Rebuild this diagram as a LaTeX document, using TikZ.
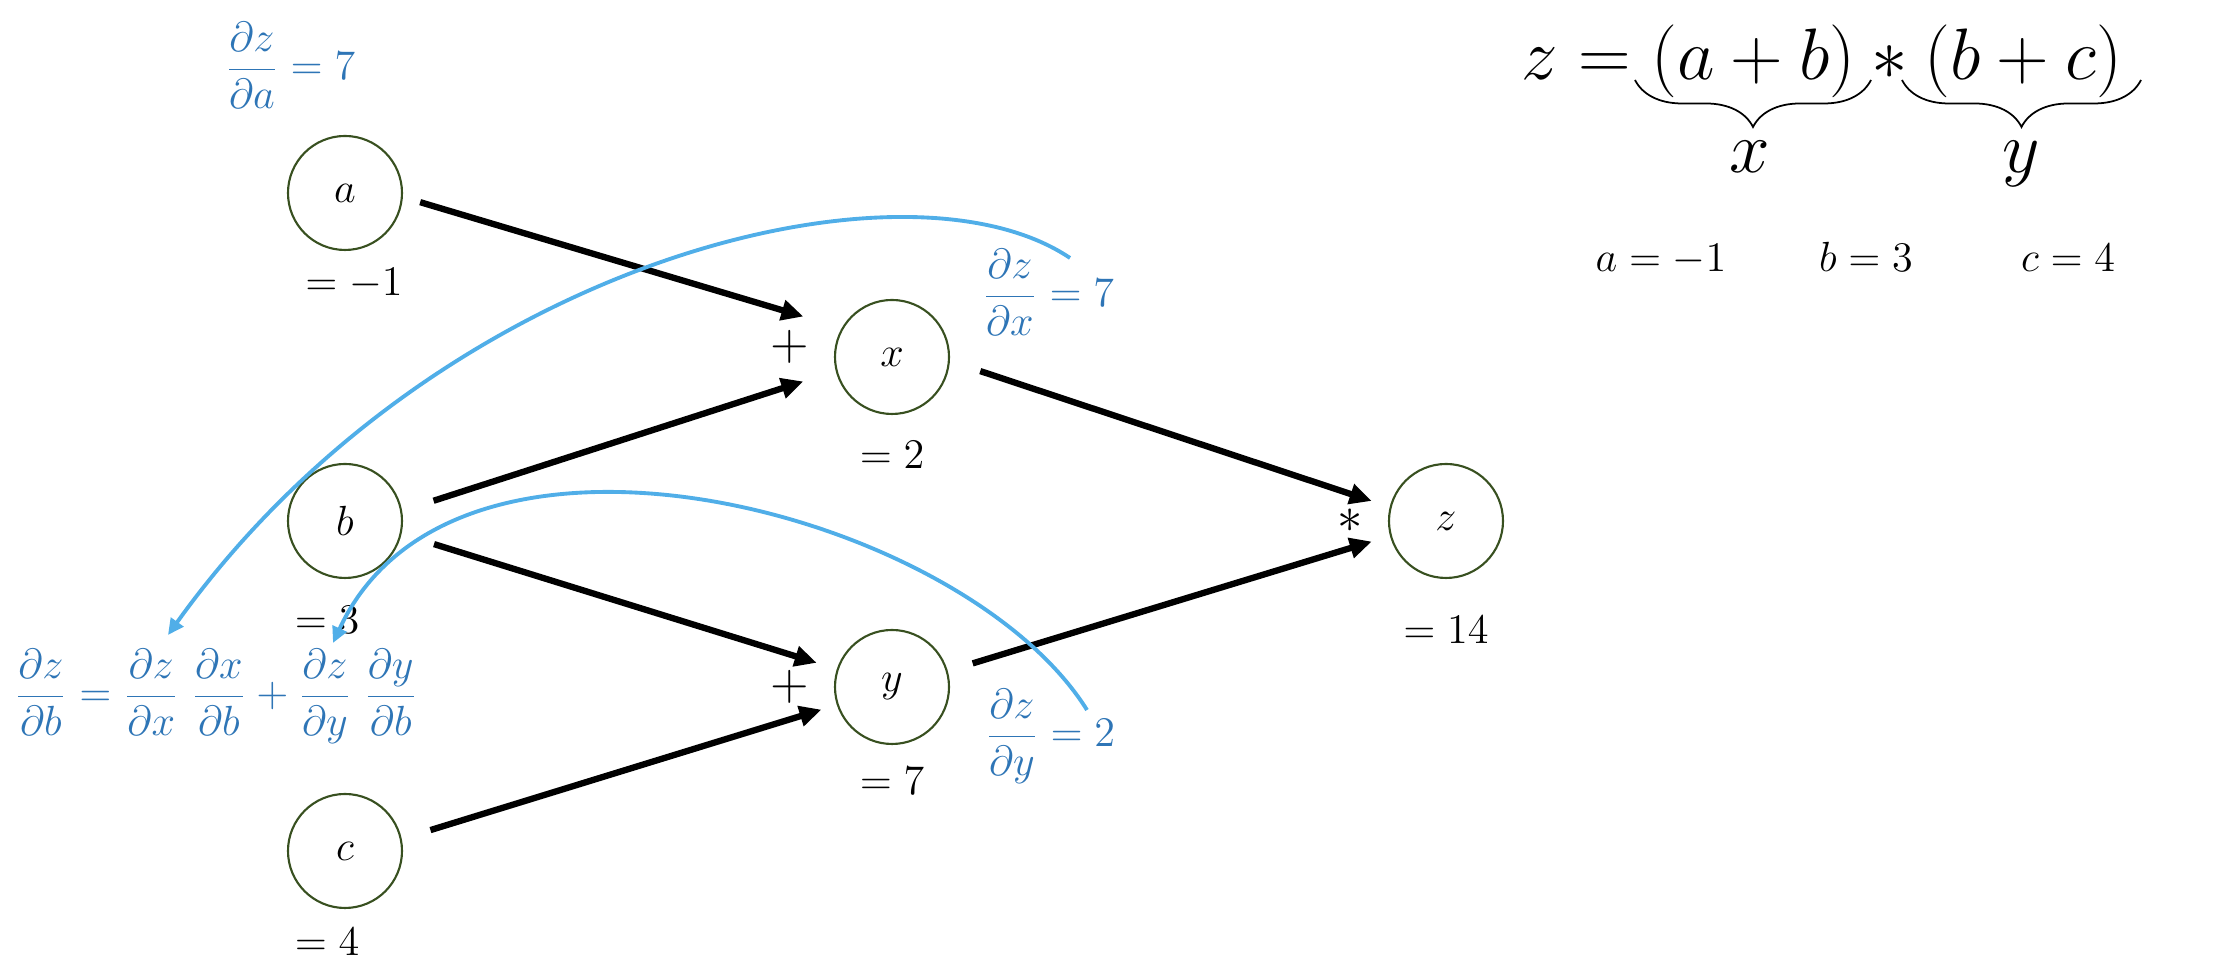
\documentclass[tikz,border=0pt]{standalone}
\usepackage{amsmath}
\usetikzlibrary{arrows.meta,positioning,decorations.pathreplacing}

\definecolor{rimgreen}{RGB}{56,80,32}
\definecolor{gradblue}{RGB}{46,117,182}
\definecolor{arcblue}{RGB}{80,174,232}

\begin{document}
\begin{tikzpicture}[
    var/.style={circle,draw=rimgreen,line width=0.6pt,minimum size=1.14cm,inner sep=0pt,font=\fontsize{13}{15}\selectfont},
    val/.style={inner sep=0pt,font=\fontsize{12}{14}\selectfont},
    op/.style={inner sep=0pt,font=\fontsize{15}{18}\selectfont},
    grad/.style={inner sep=0pt,text=gradblue,font=\fontsize{12.5}{15}\selectfont},
    fn/.style={inner sep=0pt,font=\fontsize{20}{24}\selectfont},
    brc/.style={decorate,decoration={brace,mirror,amplitude=0.47cm},line width=0.5pt},
    fwd/.style={-{Triangle[length=0.22cm,width=0.2cm]},line width=1.8pt},
    back/.style={-{Triangle[length=0.16cm,width=0.15cm]},arcblue,line width=1.1pt}]
  \useasboundingbox (0,0) rectangle (22.22,9.68);

  % computation graph
  \node[var] (a) at (3.45,7.75) {$a$};
  \node[var] (b) at (3.45,4.47) {$b$};
  \node[var] (c) at (3.45,1.17) {$c$};
  \node[var] (x) at (8.92,6.11) {$x$};
  \node[var] (y) at (8.92,2.81) {$y$};
  \node[var] (z) at (14.46,4.47) {$z$};

  \node[val] (va) [below=0.17cm of a, xshift=0.09cm]  {$=-1$};
  \node[val] (vb) [below=0.27cm of b, xshift=-0.18cm] {$=3$};
  \node[val] (vc) [below=0.19cm of c, xshift=-0.18cm] {$=4$};
  \node[val] (vx) [below=0.26cm of x] {$=2$};
  \node[val] (vy) [below=0.22cm of y] {$=7$};
  \node[val] (vz) [below=0.37cm of z] {$=14$};

  \node[op] (px) [left=0.24cm of x, yshift=0.1cm] {$+$};
  \node[op] (py) [left=0.24cm of y] {$+$};
  \node[op] (mz) [left=0.24cm of z] {$*$};

  \path[fwd] (a.-4)  edge[shorten <=0.18cm, shorten >=0.40cm] (x.150)
             (b.10)  edge[shorten <=0.33cm, shorten >=0.34cm] (x.194)
             (b.-13) edge[shorten <=0.34cm, shorten >=0.21cm] (y.162)
             (c.12)  edge[shorten <=0.30cm, shorten >=0.16cm] (y.198)
             (x.-4)  edge[shorten <=0.32cm, shorten >=0.19cm] (z.166)
             (y.16)  edge[shorten <=0.26cm, shorten >=0.19cm] (z.195);

  % gradients
  \node[grad,anchor=base] (ga) at (2.90,8.88)  {$\dfrac{\partial z}{\partial a}=7$};
  \node[grad,anchor=base] (gx) at (10.48,6.61) {$\dfrac{\partial z}{\partial x}=7$};
  \node[grad,anchor=base] (gy) at (10.50,2.21) {$\dfrac{\partial z}{\partial y}=2$};
  \node[grad,anchor=base] (gb) at (2.16,2.61)
    {$\dfrac{\partial z}{\partial b}=\dfrac{\partial z}{\partial x}\;\dfrac{\partial x}{\partial b}+\dfrac{\partial z}{\partial y}\;\dfrac{\partial y}{\partial b}$};

  \coordinate (gxs) at (10.70,7.10);
  \coordinate (gxe) at (1.68,3.33);
  \coordinate (gys) at (10.87,2.58);
  \coordinate (gye) at (3.33,3.25);
  \draw[back] (gxs) .. controls (9.04,8.22) and (4.35,7.06) .. (gxe);
  \draw[back] (gys) .. controls (9.62,4.58) and (4.55,5.89) .. (gye);

  % the function
  \node[fn,anchor=base] (fz) at (18.22,8.88) {$z=(a+b)*(b+c)$};
  \draw[brc] (16.35,8.88) -- (18.71,8.88);
  \draw[brc] (19.02,8.88) -- (21.41,8.88);
  \node[fn,anchor=base] (fx) at (17.50,7.95) {$x$};
  \node[fn,anchor=base] (fy) at (20.21,7.95) {$y$};

  \node[val,anchor=base] (ia) at (16.61,6.96) {$a=-1$};
  \node[val,anchor=base] (ib) at (18.66,6.96) {$b=3$};
  \node[val,anchor=base] (ic) at (20.68,6.96) {$c=4$};
\end{tikzpicture}
\end{document}
